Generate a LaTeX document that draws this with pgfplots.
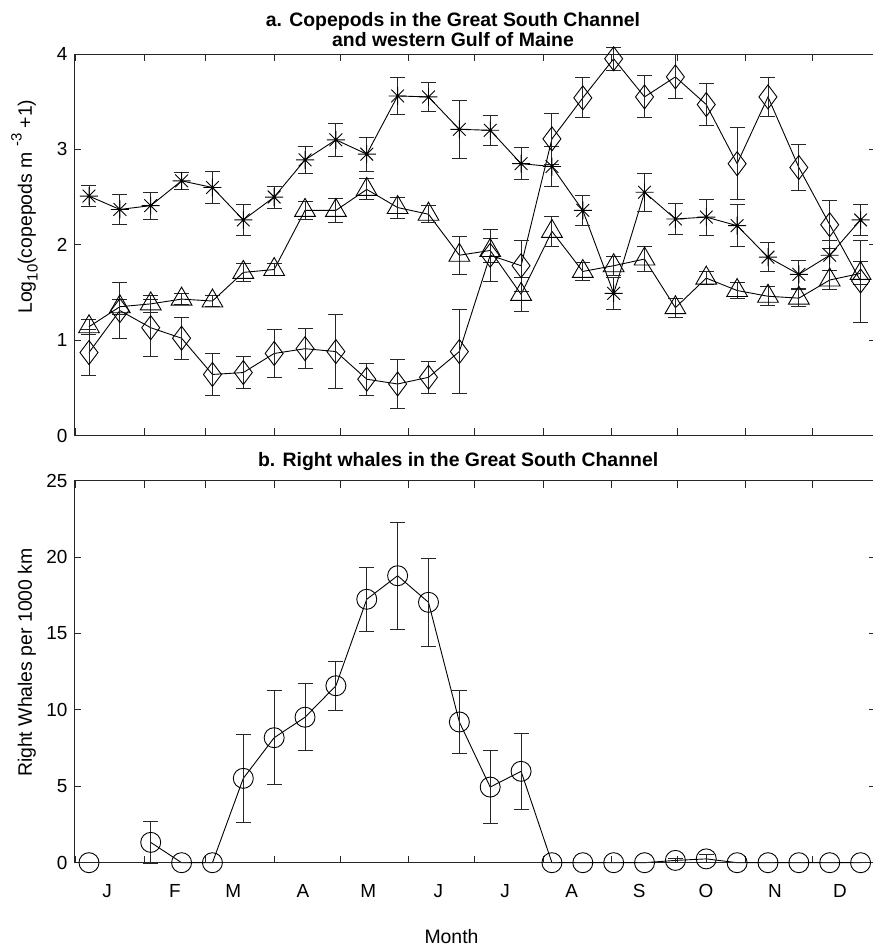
\documentclass[border=0pt]{standalone}
\usepackage{pgfplots}
\usepackage{pgfplotstable}
\pgfplotsset{compat=1.18}
\usepackage{fontspec}
\setmainfont{Liberation Sans}

\pgfdeclareplotmark{mstar}{%
 \pgfpathmoveto{\pgfqpoint{0pt}{\pgfplotmarksize}}\pgfpathlineto{\pgfqpoint{0pt}{-\pgfplotmarksize}}%
 \pgfpathmoveto{\pgfqpoint{\pgfplotmarksize}{0pt}}\pgfpathlineto{\pgfqpoint{-\pgfplotmarksize}{0pt}}%
 \pgfpathmoveto{\pgfqpoint{0.7071\pgfplotmarksize}{0.7071\pgfplotmarksize}}\pgfpathlineto{\pgfqpoint{-0.7071\pgfplotmarksize}{-0.7071\pgfplotmarksize}}%
 \pgfpathmoveto{\pgfqpoint{-0.7071\pgfplotmarksize}{0.7071\pgfplotmarksize}}\pgfpathlineto{\pgfqpoint{0.7071\pgfplotmarksize}{-0.7071\pgfplotmarksize}}%
 \pgfusepathqstroke}

\pgfplotstableread{
x y e
6 2.51 0.11
20 2.37 0.16
34 2.41 0.14
48 2.67 0.09
62 2.60 0.165
76 2.26 0.16
90 2.50 0.115
104 2.89 0.145
118 3.10 0.17
132 2.95 0.18
146 3.56 0.19
160 3.55 0.155
174 3.21 0.30
188 3.20 0.16
202 2.85 0.165
216 2.82 0.21
230 2.36 0.16
244 1.49 0.17
258 2.55 0.20
272 2.27 0.16
286 2.29 0.19
300 2.20 0.22
314 1.87 0.15
328 1.69 0.145
342 1.89 0.155
356 2.26 0.16
}\starT

\pgfplotstableread{
x y e
6 1.14 0.08
20 1.35 0.08
34 1.38 0.09
48 1.43 0.06
62 1.41 0.06
76 1.71 0.09
90 1.74 0.06
104 2.36 0.09
118 2.36 0.13
132 2.58 0.11
146 2.39 0.11
160 2.32 0.09
174 1.89 0.20
188 1.94 0.13
202 1.48 0.18
216 2.14 0.16
230 1.72 0.09
244 1.78 0.10
258 1.85 0.13
272 1.34 0.10
286 1.65 0.07
300 1.52 0.08
314 1.46 0.10
328 1.44 0.09
342 1.63 0.10
356 1.70 0.12
}\triT

\pgfplotstableread{
x y e
6 0.87 0.24
20 1.31 0.29
34 1.13 0.30
48 1.02 0.22
62 0.64 0.22
76 0.66 0.17
90 0.86 0.25
104 0.91 0.21
118 0.88 0.39
132 0.59 0.17
146 0.54 0.26
160 0.61 0.17
174 0.88 0.44
188 1.89 0.27
202 1.78 0.27
216 3.11 0.27
230 3.54 0.21
244 3.95 0.12
258 3.55 0.22
272 3.76 0.23
286 3.47 0.22
300 2.85 0.38
314 3.55 0.20
328 2.81 0.24
342 2.21 0.25
356 1.62 0.43
}\diaT

\pgfplotstableread{
x y e
6 0 0
20 nan nan
34 1.33 1.35
48 0 0
62 0 0
76 5.52 2.86
90 8.18 3.08
104 9.52 2.2
118 11.58 1.6
132 17.24 2.1
146 18.78 3.5
160 17.04 2.9
174 9.21 2.07
188 4.95 2.4
202 5.98 2.5
216 0 0
230 0 0
244 0 0
258 0 0
272 0.15 0.15
286 0.25 0.26
300 0 0
314 0 0
328 0 0
342 0 0
356 0 0
}\whaleT

\pgfplotsset{
 myaxis/.style={
  scale only axis, width=802bp, xmin=-0.8, xmax=363, clip=false,
  axis line style={line width=0.9bp, black!85},
  every tick/.style={line width=0.9bp, black!85},
  major tick length=7bp, tick align=inside,
  xtick={0,31,59,90,120,151,181,212,243,273,304,334},
  /pgf/number format/assume math mode=true,
  tick label style={font=\fontsize{19}{19}\selectfont},
  yticklabel style={xshift=-3bp},
  label style={font=\fontsize{19.5}{20}\selectfont},
  title style={font=\fontsize{19.5}{20}\selectfont\bfseries},
  unbounded coords=jump,
 },
 ser/.style={black, line width=0.9bp, mark=#1, mark options={solid, line width=0.9bp},
  error bars/y dir=both, error bars/y explicit,
  error bars/error bar style={line width=0.9bp, black!85},
  error bars/error mark options={line width=0.9bp, black!85, mark size=7.5bp, rotate=90}},
}

\begin{document}
\begin{tikzpicture}
\useasboundingbox (0,0) rectangle (873bp,947bp);

\begin{axis}[myaxis,
 at={(74bp,511.5bp)}, anchor=south west, height=381.5bp,
 ymin=0, ymax=4, ytick={0,1,2,3,4},
 xticklabels={},
 ylabel={Log\raisebox{-0.55ex}{\fontsize{15}{15}\selectfont 10}(copepods m \raisebox{1.0ex}{\fontsize{15}{15}\selectfont -3} +1)},
 ylabel style={at={(axis description cs:-0.0524,0.60)}, anchor=base},
 title={a. Copepods in the Great South Channel\\and western Gulf of Maine},
 title style={align=center, at={(axis description cs:0.4726,1)}, anchor=south, inner sep=0pt, yshift=1.3bp},
]
\addplot+[ser=mstar, mark size=9bp] table[x=x, y=y, y error=e] {\starT};
\addplot+[ser=triangle, mark size=12bp] table[x=x, y=y, y error=e] {\triT};
\addplot+[ser=diamond, mark size=12bp] table[x=x, y=y, y error=e] {\diaT};
\end{axis}

\begin{axis}[myaxis,
 at={(74bp,84.3bp)}, anchor=south west, height=382bp,
 ymin=0, ymax=25, ytick={0,5,10,15,20,25},
 xticklabels={},
 extra x ticks={14.2,45,71.4,103,132.7,164.5,194.7,225,255.6,285.9,317.2,346.7},
 extra x tick labels={J,F,M,A,M,J,J,A,S,O,N,D},
 extra x tick style={major tick length=0pt, tick label style={yshift=-18bp}},
 xlabel={Month},
 xlabel style={at={(axis description cs:0.4707,0)}, anchor=base, yshift=-80.3bp},
 ylabel={Right Whales per 1000 km},
 ylabel style={at={(axis description cs:-0.0524,0.524)}, anchor=base},
 title={b. Right whales in the Great South Channel},
 title style={at={(axis description cs:0.479,1)}, anchor=base, yshift=8.7bp},
]
\addplot+[ser=o, mark size=10bp] table[x=x, y=y, y error=e] {\whaleT};
\end{axis}
\end{tikzpicture}
\end{document}
